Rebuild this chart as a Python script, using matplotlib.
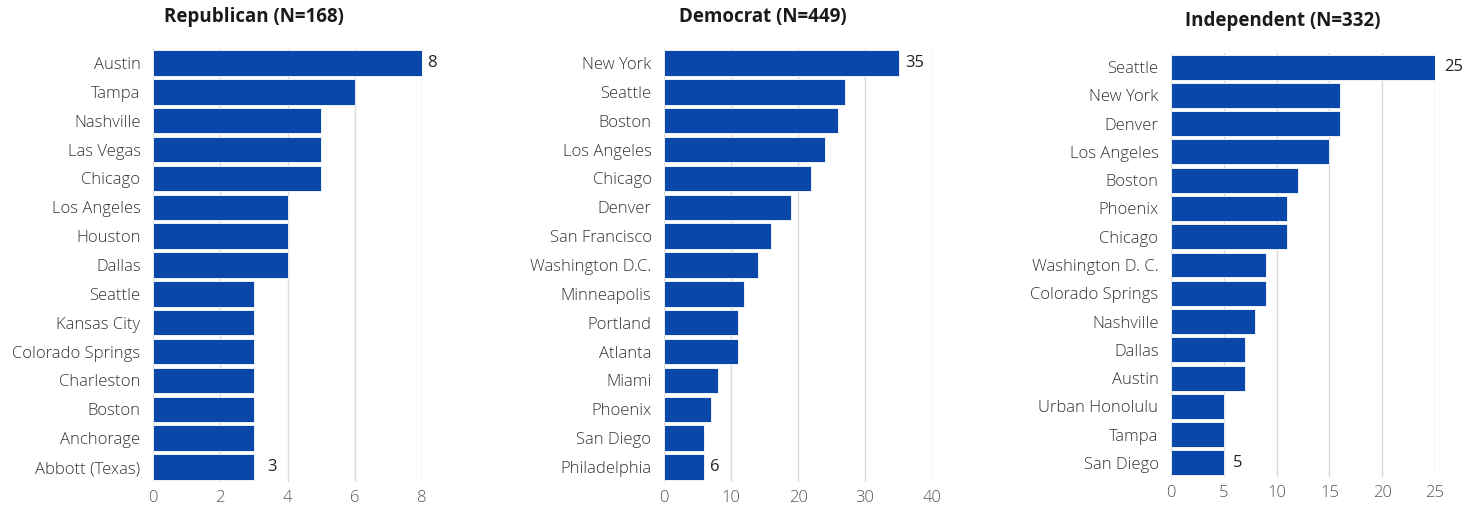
import matplotlib
matplotlib.use("Agg")
import matplotlib.pyplot as plt

rep_cities = ["Austin", "Tampa", "Nashville", "Las Vegas", "Chicago", "Los Angeles", "Houston",
              "Dallas", "Seattle", "Kansas City", "Colorado Springs", "Charleston", "Boston",
              "Anchorage", "Abbott (Texas)"]
rep_values = [8, 6, 5, 5, 5, 4, 4, 4, 3, 3, 3, 3, 3, 3, 3]

dem_cities = ["New York", "Seattle", "Boston", "Los Angeles", "Chicago", "Denver", "San Francisco",
              "Washington D.C.", "Minneapolis", "Portland", "Atlanta", "Miami", "Phoenix",
              "San Diego", "Philadelphia"]
dem_values = [35, 27, 26, 24, 22, 19, 16, 14, 12, 11, 11, 8, 7, 6, 6]

ind_cities = ["Seattle", "New York", "Denver", "Los Angeles", "Boston", "Phoenix", "Chicago",
              "Washington D. C.", "Colorado Springs", "Nashville", "Dallas", "Austin",
              "Urban Honolulu", "Tampa", "San Diego"]
ind_values = [25, 16, 16, 15, 12, 11, 11, 9, 9, 8, 7, 7, 5, 5, 5]

titles = ["Republican (N=168)", "Democrat (N=449)", "Independent (N=332)"]
rep_ticks = [0, 2, 4, 6, 8]
dem_ticks = [0, 10, 20, 30, 40]
ind_ticks = [0, 5, 10, 15, 20, 25]

plt.rcParams['font.family'] = ['Open Sans', 'DejaVu Sans']

W, H = 1480, 514
fig = plt.figure(figsize=(W / 100, H / 100), dpi=100)

BAR = "#0A47AA"
panels = [
    (rep_cities, rep_values, rep_ticks, titles[0], (153, 48.5, 422, 481.5), (254, 17), (5, 13)),
    (dem_cities, dem_values, dem_ticks, titles[1], (664, 48.5, 932, 481.5), (763, 17), (7, 6)),
    (ind_cities, ind_values, ind_ticks, titles[2], (1171, 53, 1435, 477), (1283, 21), (9, 9)),
]

for cities, vals, ticks, title, (x0, y0, x1, y1), (tx, ty), offs in panels:
    ax = fig.add_axes([x0 / W, (H - y1) / H, (x1 - x0) / W, (y1 - y0) / H])
    n = len(cities)
    ys = list(range(n))
    ax.barh(ys, vals, height=0.88, color=BAR, edgecolor="white", linewidth=0.6, zorder=3)
    ax.set_ylim(n - 0.5, -0.5)
    ax.set_xlim(0, ticks[-1])
    ax.set_yticks(ys)
    ax.set_yticklabels(cities, fontsize=12, color="#333333", fontweight=300)
    ax.set_xticks(ticks)
    ax.set_xticklabels([str(t) for t in ticks], fontsize=12, color="#555555", fontweight=300)
    ax.tick_params(axis="both", length=0)
    ax.tick_params(axis="y", pad=9)
    ax.tick_params(axis="x", pad=6)
    for s in ax.spines.values():
        s.set_visible(False)
    ax.grid(axis="x", color="#d9d9d9", linewidth=1, zorder=0)
    ax.set_axisbelow(True)
    ax.patch.set_alpha(0)
    for i, off in zip([0, n - 1], offs):
        ax.annotate(str(vals[i]), (vals[i], i), xytext=(off * 0.72, 0), textcoords="offset points",
                    ha="left", va="center", fontsize=12, color="#222222", annotation_clip=False)
    fig.text(tx / W, 1 - ty / H, title, ha="center", va="center",
             fontsize=13.5, fontweight="bold", color="#1a1a1a")

fig.savefig("out.png", dpi=100, facecolor="white")
